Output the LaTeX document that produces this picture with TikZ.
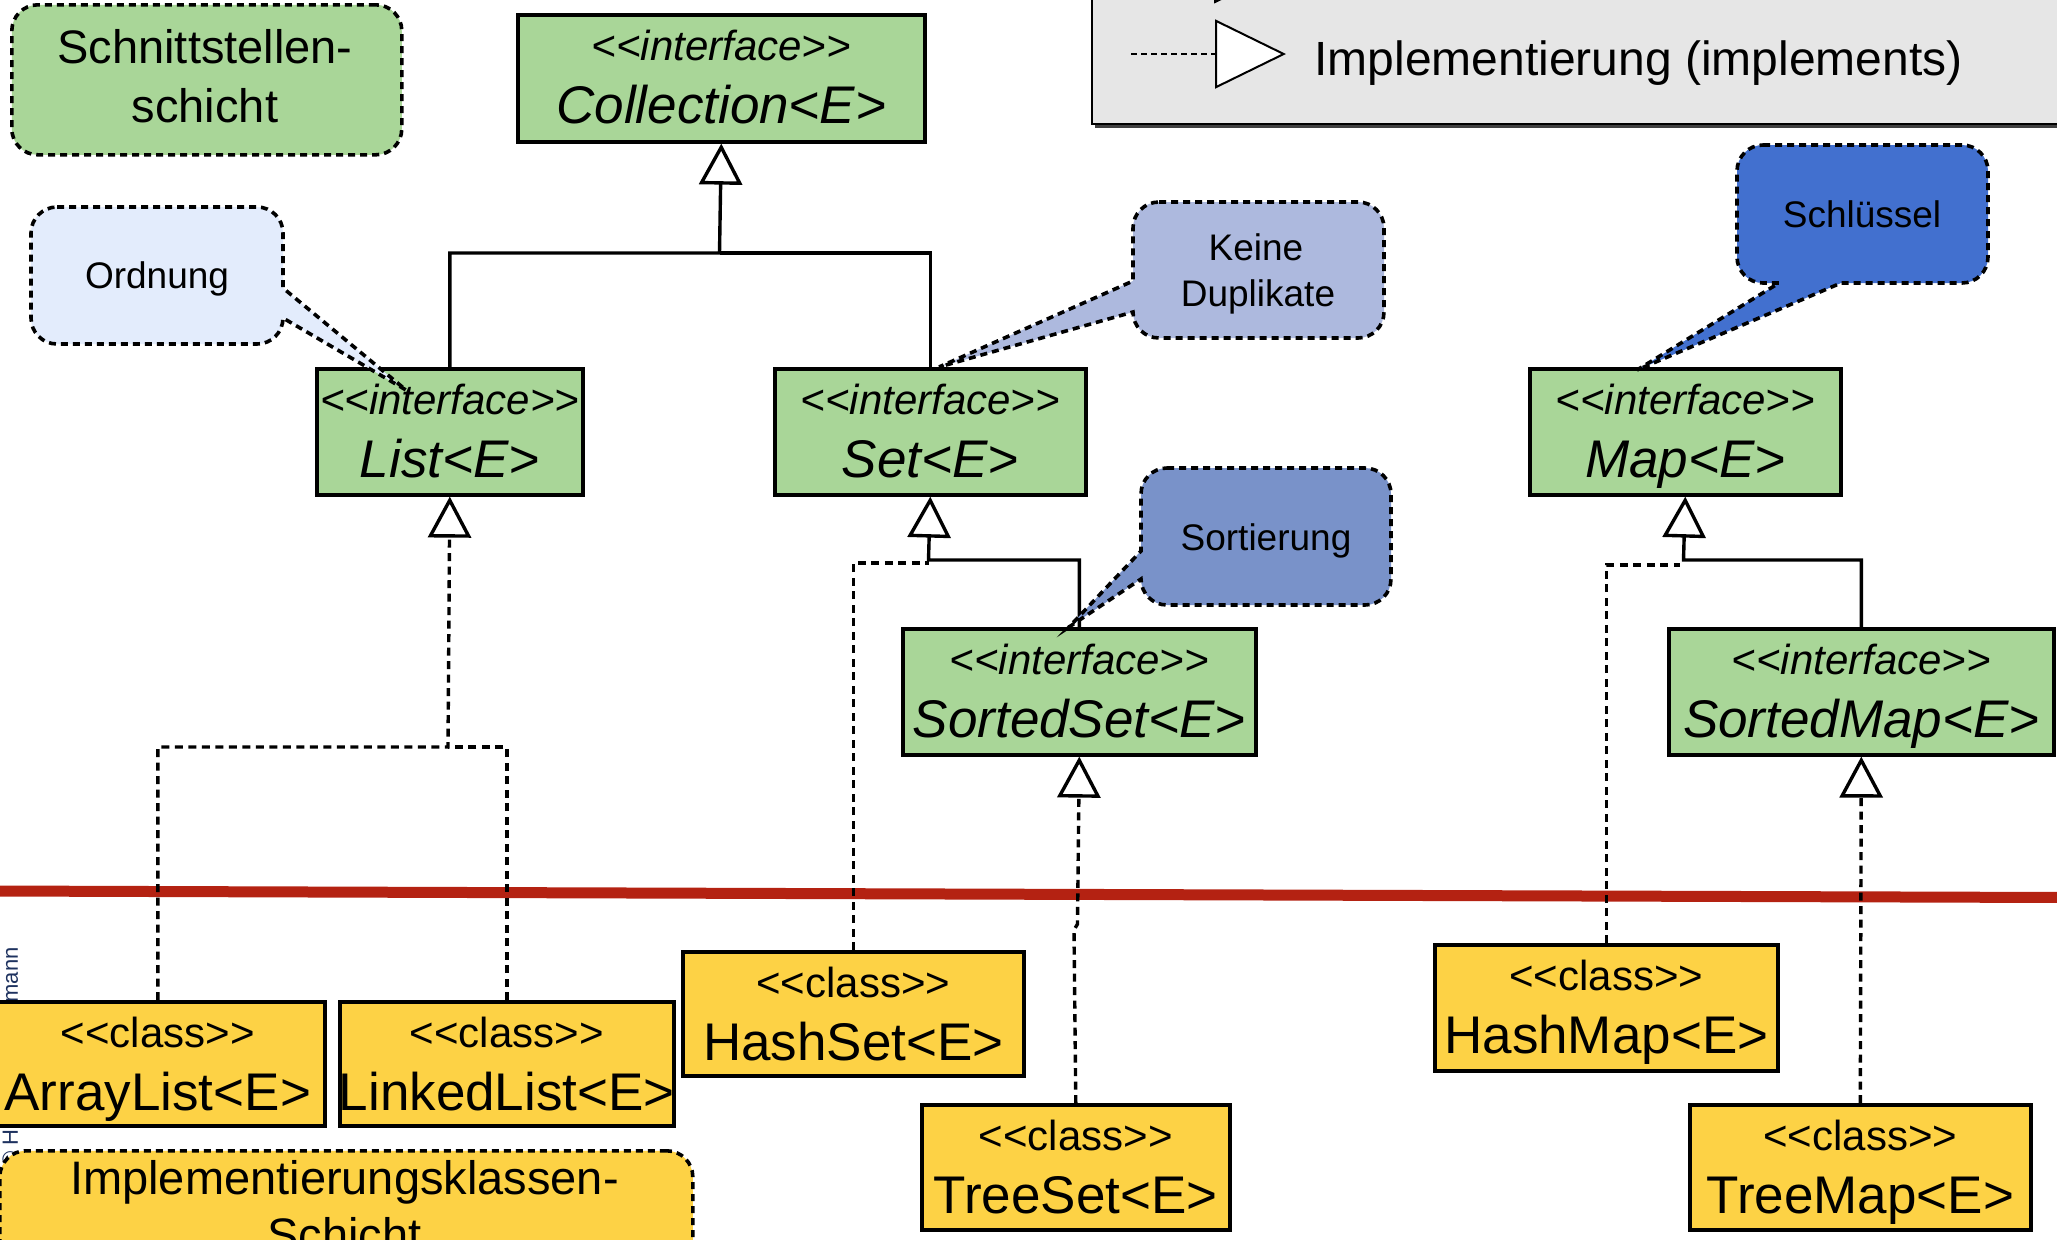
\documentclass[tikz,border=0pt]{standalone}
\usepackage{fontspec}
\setmainfont{Liberation Sans}
\usetikzlibrary{arrows.meta,calc}
\definecolor{ifgreen}{RGB}{169,214,152}
\definecolor{clyellow}{RGB}{253,210,69}
\definecolor{legendgray}{RGB}{230,230,230}
\definecolor{sepred}{RGB}{180,34,18}
\definecolor{bubOrd}{RGB}{227,236,252}
\definecolor{bubDup}{RGB}{173,185,222}
\definecolor{bubSort}{RGB}{121,146,201}
\definecolor{bubKey}{RGB}{66,112,207}
\definecolor{copyblue}{RGB}{30,50,95}
\newcommand\fsz[1]{\fontsize{#1}{#1}\selectfont}
\newcommand\umlnode[8]{%
  \node[#2, minimum width={#5*0.5pt}, minimum height={#6*0.5pt}] (#1) at (#3,#4) {};
  \node[boxtxt] (#1-s) at ($(#1.north)+(0,47)$) {#7};
  \node[boxtxt] (#1-b) at ($(#1.north)+(0,110)$) {#8};
}
\newcommand\ifs{\fsz{21}\itshape <{}<interface>{}>}
\newcommand\ifb[1]{\fsz{26.5}\itshape #1}
\newcommand\cls{\fsz{21}<{}<class>{}>}
\newcommand\clb[1]{\fsz{26.5}#1}
\tikzset{
  umlbox/.style={draw=black, line width=1.8pt, inner sep=0pt, anchor=north west},
  ifbox/.style={umlbox, fill=ifgreen},
  clbox/.style={umlbox, fill=clyellow},
  boxtxt/.style={anchor=base, inner sep=0pt},
  conn/.style={line width=1.7pt, draw=black},
  dconn/.style={conn, dash pattern=on 4pt off 2.75pt},
  inh/.style={conn, -{Triangle[length=20.5pt,width=21.5pt,fill=white]}},
  impl/.style={dconn, -{Triangle[length=20.5pt,width=21.5pt,fill=white]}},
  bubble/.style={draw=black, line width=1.8pt, dash pattern=on 3.5pt off 2.5pt},
  layerbox/.style={bubble, rounded corners=13pt, fill=ifgreen, inner sep=0pt, anchor=north west},
  lbltxt/.style={anchor=base, inner sep=0pt, font=\fsz{23.5}},
  bubtxt/.style={anchor=base, inner sep=0pt, font=\fsz{18.5}},
}
\begin{document}
\begin{tikzpicture}[x=0.5pt,y=-0.5pt]
\useasboundingbox (0,0) rectangle (2057,1239);
\clip (0,0) rectangle (2057,1239);
% separator line
\coordinate (redL) at (-5,891);
\coordinate (redR) at (2065,897.5);
\draw[sepred, line width=5.5pt] (redL) -- (redR);
% copyright (mostly hidden)
\node[rotate=90, anchor=base west, inner sep=0pt, text=copyblue, font=\fsz{11}] (copy) at (18,1168) {© H\hspace{63.5pt}mann};
% junction coordinates
\coordinate (cj) at (719.5,253);
\coordinate (lj) at (448,747);
\coordinate (sj) at (928.5,560);
\coordinate (sjd) at (928.5,563);
\coordinate (mj) at (1683.5,560);
\coordinate (mjd) at (1680,565);
\coordinate (tsb1) at (1074,930);
\coordinate (tsb2) at (1077.5,924);
% boxes
\umlnode{coll}{ifbox}{516}{13}{407}{127}{\ifs}{\ifb{Collection<E>}}
\umlnode{list}{ifbox}{315}{367}{266}{126}{\ifs}{\ifb{List<E>}}
\umlnode{set}{ifbox}{773}{367}{311}{126}{\ifs}{\ifb{Set<E>}}
\umlnode{map}{ifbox}{1528}{367}{311}{126}{\ifs}{\ifb{Map<E>}}
\umlnode{sortedset}{ifbox}{901}{627}{353}{126}{\ifs}{\ifb{SortedSet<E>}}
\umlnode{sortedmap}{ifbox}{1667}{627}{385}{126}{\ifs}{\ifb{SortedMap<E>}}
\umlnode{arraylist}{clbox}{-11}{1000}{334}{124}{\cls}{\clb{ArrayList<E>}}
\umlnode{linkedlist}{clbox}{338}{1000}{334}{124}{\cls}{\clb{LinkedList<E>}}
\umlnode{hashset}{clbox}{681}{950}{341}{124}{\cls}{\clb{HashSet<E>}}
\umlnode{treeset}{clbox}{920}{1103}{308}{125}{\cls}{\clb{TreeSet<E>}}
\umlnode{hashmap}{clbox}{1433}{943}{343}{126}{\cls}{\clb{HashMap<E>}}
\umlnode{treemap}{clbox}{1688}{1103}{341}{125}{\cls}{\clb{TreeMap<E>}}
% connectors
\draw[inh] (list.north) |- (cj) -- (coll.south);
\draw[conn] (set.north) |- (cj);
\draw[impl] (arraylist.north) |- (lj) -- (list.south);
\draw[dconn] (linkedlist.north) |- (lj);
\draw[inh] (sortedset.north) |- (sj) -- (set.south);
\draw[dconn] (hashset.north) |- (sjd);
\draw[inh] (sortedmap.north) |- (mj) -- (map.south);
\draw[dconn] (hashmap.north) |- (mjd);
\draw[impl] (treeset.north) -- (tsb1) -- (tsb2) -- (sortedset.south);
\draw[impl] (treemap.north) -- (sortedmap.south);
% callouts
\draw[bubble, fill=bubOrd] (57,207) -- (257,207) .. controls (271.4,207) and (283,218.6) .. (283,233) -- (283,288) -- (406,390) -- (283,318) .. controls (283,332.4) and (271.4,344) .. (257,344) -- (57,344) .. controls (42.6,344) and (31,332.4) .. (31,318) -- (31,233) .. controls (31,218.6) and (42.6,207) .. (57,207) -- cycle;
\node[bubtxt] (t-ord) at (157,288) {Ordnung};
\draw[bubble, fill=bubDup] (1159,202) -- (1358,202) .. controls (1372.4,202) and (1384,213.6) .. (1384,228) -- (1384,312) .. controls (1384,326.4) and (1372.4,338) .. (1358,338) -- (1159,338) .. controls (1144.6,338) and (1133,326.4) .. (1133,312) -- (939,367) -- (1133,281) -- (1133,228) .. controls (1133,213.6) and (1144.6,202) .. (1159,202) -- cycle;
\node[bubtxt] (t-dup1) at (1256,260) {Keine};
\node[bubtxt] (t-dup2) at (1258,306) {Duplikate};
\draw[bubble, fill=bubSort] (1167,468) -- (1365,468) .. controls (1379.4,468) and (1391,479.6) .. (1391,494) -- (1391,579) .. controls (1391,593.4) and (1379.4,605) .. (1365,605) -- (1167,605) .. controls (1152.6,605) and (1141,593.4) .. (1141,579) -- (1069,627) -- (1141,551) -- (1141,494) .. controls (1141,479.6) and (1152.6,468) .. (1167,468) -- cycle;
\node[bubtxt] (t-sort) at (1266,550) {Sortierung};
\draw[bubble, fill=bubKey] (1763,145) -- (1962,145) .. controls (1976.4,145) and (1988,156.6) .. (1988,171) -- (1988,257) .. controls (1988,271.4) and (1976.4,283) .. (1962,283) -- (1841,283) -- (1637,370) -- (1779,283) -- (1763,283) .. controls (1748.6,283) and (1737,271.4) .. (1737,257) -- (1737,171) .. controls (1737,156.6) and (1748.6,145) .. (1763,145) -- cycle;
\node[bubtxt] (t-key) at (1862,227) {Schlüssel};
% layer labels
\node[layerbox, minimum width=195pt, minimum height=75pt] (layer1) at (10,3) {};
\node[lbltxt] (layer1-a) at (205,63) {Schnittstellen-};
\node[lbltxt] (layer1-b) at (205,122) {schicht};
\node[layerbox, fill=clyellow, minimum width=346.5pt, minimum height=80pt] (layer2) at (-2,1149) {};
\node[lbltxt] (layer2-a) at (344.5,1194) {Implementierungsklassen-};
\node[lbltxt] (layer2-b) at (344.5,1251) {Schicht};
% legend
\node[fill=black!75, inner sep=0pt, anchor=north west, minimum width=495pt, minimum height=79pt] (legshadow) at (1095,-30) {};
\node[draw=black, line width=1.2pt, fill=legendgray, inner sep=0pt, anchor=north west, minimum width=495pt, minimum height=76.5pt] (legend) at (1091,-30) {};
\draw[line width=1pt, fill=white] (1215,-67) -- (1215,2) -- (1286,-32) -- cycle;
\coordinate (lgA) at (1131,54);
\coordinate (lgB) at (1286,54);
\draw[line width=1pt, dash pattern=on 3pt off 2pt, -{Triangle[length=35.5pt,width=34.5pt,fill=white]}] (lgA) -- (lgB);
\node[anchor=base west, inner sep=0pt, font=\fsz{24}] (legtxt) at (1314,75) {Implementierung (implements)};
\end{tikzpicture}
\end{document}
